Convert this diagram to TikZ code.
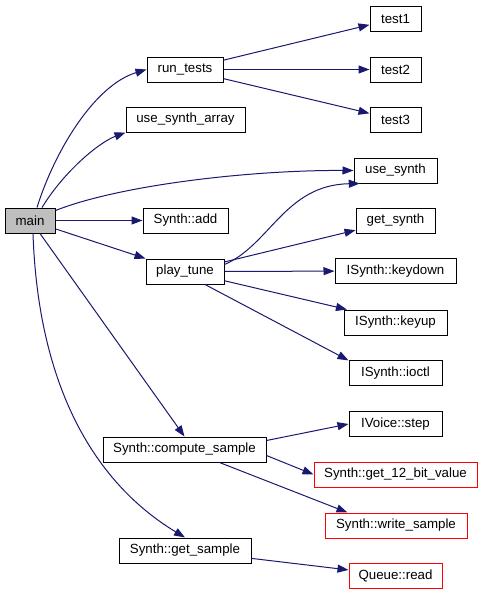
\documentclass[tikz,border=0pt]{standalone}
\usepackage{fontspec}
\setmainfont{Liberation Sans}
\usetikzlibrary{arrows.meta,calc}
\definecolor{edgec}{HTML}{191970}
\definecolor{mainfill}{HTML}{BFBFBF}
\begin{document}
\begin{tikzpicture}[x=1pt,y=-1pt,
  fn/.style={draw=black,line width=1pt,fill=white,minimum height=25pt,inner sep=0pt,
    font=\fontsize{13.3}{16}\selectfont},
  redfn/.style={fn,draw=red},
  edge/.style={draw=edgec,line width=1pt,-{Triangle[length=11pt,width=8pt]}}]
\useasboundingbox (0,0) rectangle (483,595);
\fill[white] (0,0) rectangle (483,595);
% nodes
\node[fn,fill=mainfill,minimum width=50pt] (main) at (30,220.5) {main};
\node[fn,minimum width=76pt] (rtests) at (185,69.5) {run\_tests};
\node[fn,minimum width=119pt] (usa) at (185.5,119.5) {use\_synth\_array};
\node[fn,minimum width=85pt] (sadd) at (185.5,220.5) {Synth::add};
\node[fn,minimum width=78pt] (ptune) at (185,271.5) {play\_tune};
\node[fn,minimum width=163pt] (csample) at (184.5,449.5) {Synth::compute\_sample};
\node[fn,minimum width=132pt] (gsample) at (185,550.5) {Synth::get\_sample};
\node[fn,minimum width=51pt] (t1) at (395.5,18.5) {test1};
\node[fn,minimum width=51pt] (t2) at (395.5,69.5) {test2};
\node[fn,minimum width=51pt] (t3) at (395.5,119.5) {test3};
\node[fn,minimum width=83pt] (us) at (395.5,170.5) {use\_synth};
\node[fn,minimum width=79pt] (gs) at (395.5,220.5) {get\_synth};
\node[fn,minimum width=121pt] (kd) at (395.5,271) {ISynth::keydown};
\node[fn,minimum width=103pt] (ku) at (395.5,322.5) {ISynth::keyup};
\node[fn,minimum width=93pt] (io) at (395.5,373) {ISynth::ioctl};
\node[fn,minimum width=93pt] (vs) at (395.5,424) {IVoice::step};
\node[redfn,minimum width=163pt] (g12) at (395.5,474.5) {Synth::get\_12\_bit\_value};
\node[redfn,minimum width=142pt] (ws) at (396,525.5) {Synth::write\_sample};
\node[redfn,minimum width=93pt] (qr) at (395.5,575.5) {Queue::read};
% edges from main
\draw[edge] (main.north) ++(7,0) .. controls (55,150) and (95,85) .. (rtests.west);
\draw[edge] (main.north) ++(12,0) .. controls (65,170) and (100,142) .. (usa.south west);
\draw[edge] (main.north east) ++(0,3) .. controls (120,185) and (250,170) .. (us.west);
\draw[edge] (main) -- (sadd);
\draw[edge] (main) -- (ptune);
\draw[edge] (main.south) ++(10,0) -- (csample.north);
\draw[edge] (main.south) ++(3,0) .. controls (38,380) and (90,480) .. (gsample.north);
% run_tests
\draw[edge] (rtests) -- (t1);
\draw[edge] (rtests) -- (t2);
\draw[edge] (rtests) -- (t3);
% play_tune
\draw[edge] (ptune.east) ++(0,-7) .. controls (270,245) and (285,185) .. (us.200);
\draw[edge] (ptune) -- (gs);
\draw[edge] (ptune) -- (kd);
\draw[edge] (ptune) -- (ku.165);
\draw[edge] (ptune.south) ++(20,0) -- (io.165);
% compute_sample
\draw[edge] (csample.east) ++(0,-9) -- (vs.west);
\draw[edge] (csample.east) ++(0,6) -- (g12.west);
\draw[edge] (csample.south) ++(35,0) -- ($(ws.north west)+(23,0)$);
% get_sample
\draw[edge] (gsample) -- (qr);
\end{tikzpicture}
\end{document}
